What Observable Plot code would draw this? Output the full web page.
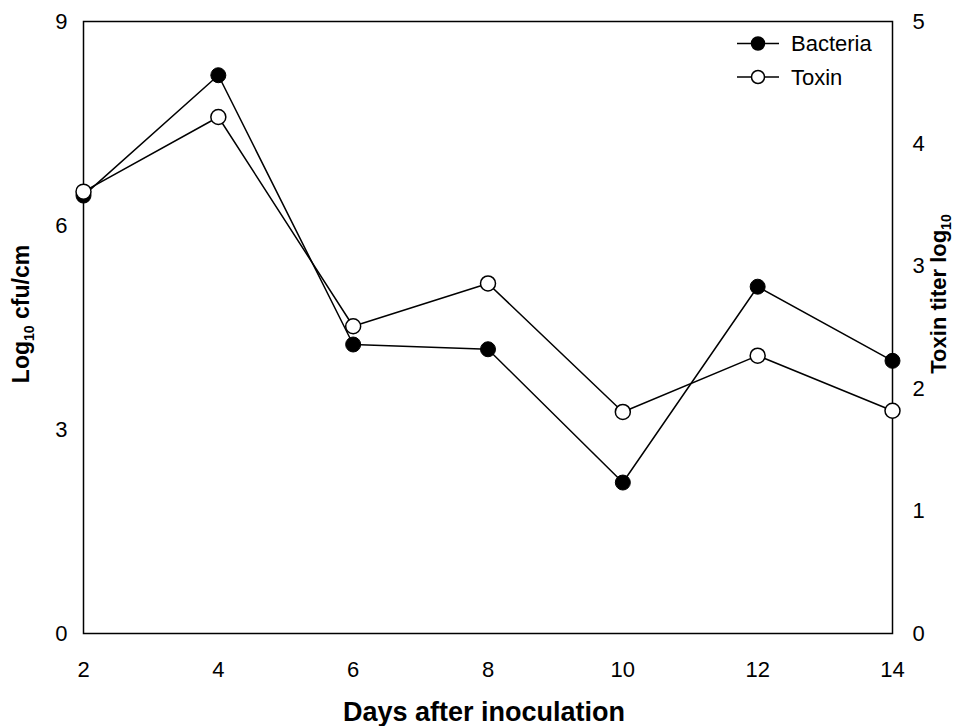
<!DOCTYPE html>
<html><head><meta charset="utf-8">
<script src="https://cdn.jsdelivr.net/npm/d3@7"></script>
<script src="https://cdn.jsdelivr.net/npm/@observablehq/plot@0.6"></script>
<style>body{margin:0;background:#fff;} svg{font-family:"Liberation Sans",Arial,sans-serif;}</style>
</head><body><div id="chart"></div>
<script>
const days = [2, 4, 6, 8, 10, 12, 14];
const bacteria = [6.44, 8.21, 4.25, 4.18, 2.22, 5.10, 4.01];
const toxin = [3.61, 4.22, 2.51, 2.86, 1.81, 2.27, 1.82];
const leftTicks = [0, 3, 6, 9];
const rightTicks = [0, 1, 2, 3, 4, 5];
const xTicks = [2, 4, 6, 8, 10, 12, 14];
const seriesNames = ["Bacteria", "Toxin"];
const k = 9 / 5;

const bData = days.map((d, i) => ({day: d, v: bacteria[i]}));
const tData = days.map((d, i) => ({day: d, v: toxin[i] * k}));

const W = 957, H = 726, mL = 83, mR = 65, mT = 21, mB = 93;
const plot = Plot.plot({
  width: W, height: H,
  marginLeft: mL, marginRight: mR, marginTop: mT, marginBottom: mB,
  style: {fontSize: "22px", fontFamily: "Liberation Sans, Arial, sans-serif", color: "#000", background: "#fff"},
  x: {domain: [2, 14]},
  y: {domain: [0, 9]},
  marks: [
    Plot.axisY({ticks: leftTicks, tickSize: 0, tickPadding: 16, label: null, fontSize: 22}),
    Plot.axisY({ticks: rightTicks.map(t => t * k), tickFormat: d => Math.round(d / k), anchor: "right", tickSize: 0, tickPadding: 20, label: null, fontSize: 22}),
    Plot.axisX({ticks: xTicks, tickSize: 0, tickPadding: 28, label: null, fontSize: 22}),
    Plot.frame({stroke: "#000", strokeWidth: 1.5}),
    Plot.line(bData, {x: "day", y: "v", stroke: "#000", strokeWidth: 1.5}),
    Plot.line(tData, {x: "day", y: "v", stroke: "#000", strokeWidth: 1.5}),
    Plot.dot(bData, {x: "day", y: "v", r: 7.5, fill: "#000", stroke: "#000", strokeWidth: 1}),
    Plot.dot(tData, {x: "day", y: "v", r: 7.5, fill: "#fff", stroke: "#000", strokeWidth: 1.5})
  ]
});
document.getElementById("chart").appendChild(plot);

const svg = d3.select(plot);
const font = "Liberation Sans, Arial, sans-serif";
// Axis titles
const yl = svg.append("text").attr("transform", `translate(29,314) rotate(-90)`)
  .attr("text-anchor", "middle").attr("font-size", 23).attr("font-weight", "bold").attr("font-family", font).attr("fill", "#000");
yl.append("tspan").text("Log");
yl.append("tspan").text("10").attr("font-size", 14).attr("dy", 5);
yl.append("tspan").text(" cfu/cm").attr("dy", -5);

const yr = svg.append("text").attr("transform", `translate(946,294) rotate(-90)`)
  .attr("text-anchor", "middle").attr("font-size", 22).attr("font-weight", "bold").attr("font-family", font).attr("fill", "#000");
yr.append("tspan").text("Toxin titer log");
yr.append("tspan").text("10").attr("font-size", 14).attr("dy", 5);

svg.append("text").attr("x", 484).attr("y", 721).attr("text-anchor", "middle")
  .attr("font-size", 27).attr("font-weight", "bold").attr("font-family", font).attr("fill", "#000")
  .text("Days after inoculation");

// Legend
const legend = [{label: seriesNames[0], fill: "#000", y: 43.5}, {label: seriesNames[1], fill: "#fff", y: 77}];
legend.forEach(l => {
  svg.append("line").attr("x1", 737).attr("x2", 779).attr("y1", l.y).attr("y2", l.y).attr("stroke", "#000").attr("stroke-width", 1.5);
  svg.append("circle").attr("cx", 758).attr("cy", l.y).attr("r", 6.5).attr("fill", l.fill).attr("stroke", "#000").attr("stroke-width", 1.5);
  svg.append("text").attr("x", 791).attr("y", l.y + 7.5).attr("text-anchor", "start").attr("font-size", 22).attr("font-family", font).attr("fill", "#000").text(l.label);
});
</script></body></html>
